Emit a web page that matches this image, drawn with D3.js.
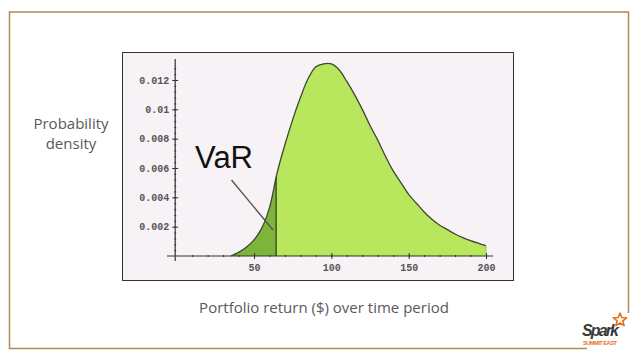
<!DOCTYPE html>
<html>
<head>
<meta charset="utf-8">
<script src="https://cdn.jsdelivr.net/npm/d3@7"></script>
<style>
  body { margin: 0; background: #fff; }
  svg { display: block; }
</style>
</head>
<body>
<div id="chart"></div>
<script>
// values
const returns = [35, 40, 45, 50, 55, 60, 65, 70, 75, 80, 85, 90, 95, 100, 105, 110, 115, 120,
  125, 130, 135, 140, 145, 150, 155, 160, 165, 170, 175, 180, 185, 190, 195, 200];
const density = [0, 0.00025, 0.0006, 0.0011, 0.0019, 0.0033, 0.0057, 0.0076, 0.0093, 0.0108,
  0.0121, 0.0129, 0.0131, 0.0131, 0.0127, 0.0119, 0.011, 0.01, 0.0089, 0.0079, 0.0068, 0.0058,
  0.005, 0.0042, 0.0036, 0.003, 0.0025, 0.0021, 0.0018, 0.0015, 0.00125, 0.00105, 0.00087, 0.0007];
const varCut = 64.3;
const xTicks = [50, 100, 150, 200];
const yTicks = [0.002, 0.004, 0.006, 0.008, 0.01, 0.012];
const yTickLabels = ["0.002", "0.004", "0.006", "0.008", "0.01", "0.012"];

const W = 638, H = 359;
const svg = d3.select("#chart").append("svg").attr("width", W).attr("height", H);

// slide frame (open at bottom right for the logo)
svg.append("path")
  .attr("d", "M587,348.5 L9.5,348.5 L9.5,12 L628.5,12 L628.5,313")
  .attr("fill", "none").attr("stroke", "#b08a55").attr("stroke-width", 1.5);

// plot picture box
svg.append("rect")
  .attr("x", 122.5).attr("y", 52.5).attr("width", 391).attr("height", 228)
  .attr("fill", "#f6f2f5").attr("stroke", "#333").attr("stroke-width", 1);

const x = d3.scaleLinear().domain([0, 200]).range([176.7, 486]);
const y = d3.scaleLinear().domain([0, 0.012]).range([256, 80]);

const pts = returns.map((r, i) => ({ r: r, d: density[i] }));
const curve = d3.curveCatmullRom.alpha(0.5);

// light area, full curve
const area = d3.area().x(d => x(d.r)).y0(y(0)).y1(d => y(d.d)).curve(curve);
svg.append("path").datum(pts).attr("d", area).attr("fill", "#b8e65c");

// dark tail (VaR region), clipped
svg.append("clipPath").attr("id", "tail")
  .append("rect").attr("x", 0).attr("y", 0).attr("width", x(varCut)).attr("height", H);
svg.append("path").datum(pts).attr("d", area).attr("fill", "#7db53a")
  .attr("clip-path", "url(#tail)");

// outline
const line = d3.line().x(d => x(d.r)).y(d => y(d.d)).curve(curve);
svg.append("path").datum(pts).attr("d", line)
  .attr("fill", "none").attr("stroke", "#3c4a30").attr("stroke-width", 1.3);

// cutoff line
const cutY = d3.interpolateNumber(density[5], density[6])((varCut - 60) / 5);
svg.append("line")
  .attr("x1", x(varCut)).attr("x2", x(varCut))
  .attr("y1", y(0)).attr("y2", y(cutY))
  .attr("stroke", "#2e3a22").attr("stroke-width", 1.2);

// right end of fill
svg.append("line")
  .attr("x1", x(200)).attr("x2", x(200)).attr("y1", y(0)).attr("y2", y(density[density.length - 1]))
  .attr("stroke", "#9ac74a").attr("stroke-width", 1);

// axes
const axisColor = "#333";
svg.append("line").attr("x1", 167).attr("x2", 493).attr("y1", y(0)).attr("y2", y(0))
  .attr("stroke", axisColor).attr("stroke-width", 1.2);
svg.append("line").attr("x1", x(0) - 1.5).attr("x2", x(0) - 1.5).attr("y1", 59).attr("y2", 261)
  .attr("stroke", axisColor).attr("stroke-width", 1.2);

// minor ticks
const gMinorX = svg.append("g").attr("transform", `translate(0,${y(0)})`)
  .call(d3.axisBottom(x).tickValues(d3.range(10, 201, 10)).tickSize(2).tickFormat(""));
gMinorX.select(".domain").remove();
gMinorX.selectAll("line").attr("stroke", axisColor).attr("transform", "translate(0,-1)");

const gMinorY = svg.append("g").attr("transform", `translate(${x(0) - 1.5},0)`)
  .call(d3.axisRight(y).tickValues(d3.range(1, 33).map(i => i * 0.0004)).tickSize(2).tickFormat(""));
gMinorY.select(".domain").remove();
gMinorY.selectAll("line").attr("stroke", axisColor).attr("transform", "translate(-1,0)");

// major ticks + labels
const gx = svg.append("g").attr("transform", `translate(0,${y(0)})`)
  .call(d3.axisBottom(x).tickValues(xTicks).tickSize(3).tickPadding(5));
gx.select(".domain").remove();
gx.selectAll("line").attr("stroke", axisColor).attr("y1", -3);
gx.selectAll("text").attr("fill", "#555").attr("font-family", "Liberation Mono, monospace")
  .attr("font-weight", "bold").attr("font-size", 10);

const gy = svg.append("g").attr("transform", `translate(${x(0) - 1.5},0)`)
  .call(d3.axisLeft(y).tickValues(yTicks).tickSize(3).tickPadding(3)
    .tickFormat((d, i) => yTickLabels[i]));
gy.select(".domain").remove();
gy.selectAll("line").attr("stroke", axisColor).attr("x1", 3);
gy.selectAll("text").attr("fill", "#555").attr("font-family", "Liberation Mono, monospace")
  .attr("font-weight", "bold").attr("font-size", 10);

// VaR annotation
svg.append("text").attr("x", 195).attr("y", 167.5)
  .attr("font-family", "Liberation Sans, Arial, sans-serif").attr("font-size", 31)
  .attr("fill", "#111").text("VaR");
svg.append("line").attr("x1", 231.5).attr("y1", 180).attr("x2", 273).attr("y2", 230)
  .attr("stroke", "#555").attr("stroke-width", 1.4);

// slide labels
const labelFont = "Open Sans, sans-serif";
const yl = svg.append("text").attr("text-anchor", "middle").attr("font-family", labelFont)
  .attr("font-size", 15).attr("fill", "#595959");
yl.append("tspan").attr("x", 71).attr("y", 129).text("Probability");
yl.append("tspan").attr("x", 71).attr("y", 149).text("density");

svg.append("text").attr("x", 324).attr("y", 313).attr("text-anchor", "middle")
  .attr("font-family", labelFont).attr("font-size", 15).attr("fill", "#595959")
  .text("Portfolio return ($) over time period");

// Spark logo
const star = d3.range(10).map(i => {
  const a = -Math.PI / 2 + i * Math.PI / 5, rr = i % 2 ? 3 : 7;
  return [620 + rr * Math.cos(a), 320 + rr * Math.sin(a)];
});
svg.append("path").attr("d", d3.line()(star) + "Z")
  .attr("fill", "#fff").attr("stroke", "#e8711c").attr("stroke-width", 1.6)
  .attr("stroke-linejoin", "round");
svg.append("text").attr("x", 582).attr("y", 336)
  .attr("font-family", "Liberation Sans, Arial, sans-serif").attr("font-size", 16)
  .attr("font-weight", "bold").attr("font-style", "italic").attr("fill", "#3a3a3a")
  .attr("textLength", 37).text("Spark");
svg.append("text").attr("x", 583).attr("y", 344.5)
  .attr("font-family", "Liberation Sans, Arial, sans-serif").attr("font-size", 5.8)
  .attr("font-weight", "bold").attr("fill", "#e8711c").attr("textLength", 34).text("SUMMIT EAST");
</script>
</body>
</html>
